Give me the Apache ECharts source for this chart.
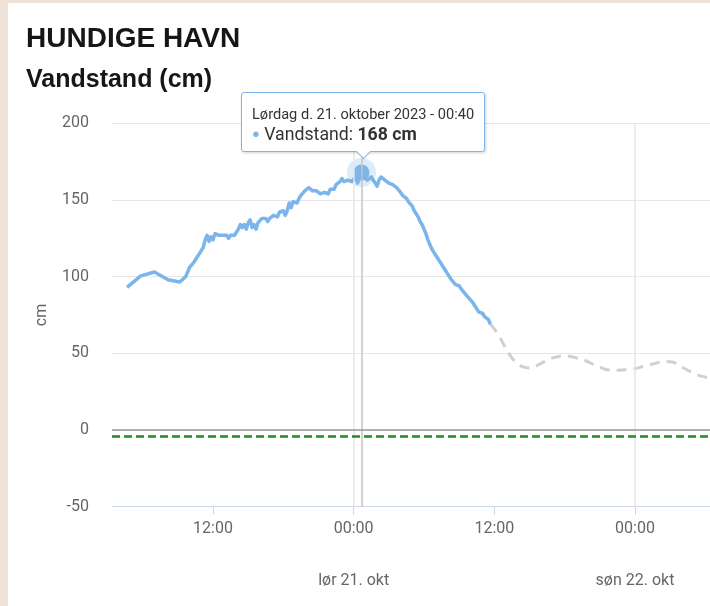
<!DOCTYPE html>
<html>
<head>
<meta charset="utf-8">
<title>Hundige Havn - Vandstand</title>
<script src="https://cdn.jsdelivr.net/npm/echarts@6.0.0/dist/echarts.min.js"></script>
<style>
  html, body { margin: 0; padding: 0; background: #efe3d9; }
  #chart { position: absolute; left: 8px; top: 3px; width: 702px; height: 603px; background: #fff; }
</style>
</head>
<body>
<div id="chart"></div>
<script>
// observed water level (cm), 10 min readings
const obsTime = [
  '2023-10-20 04:40', '2023-10-20 05:50', '2023-10-20 07:00', '2023-10-20 08:10', '2023-10-20 09:10', '2023-10-20 09:40',
  '2023-10-20 10:00', '2023-10-20 10:10', '2023-10-20 10:20', '2023-10-20 10:30', '2023-10-20 10:40', '2023-10-20 10:50',
  '2023-10-20 11:00', '2023-10-20 11:10', '2023-10-20 11:20', '2023-10-20 11:30', '2023-10-20 11:40', '2023-10-20 11:50',
  '2023-10-20 12:00', '2023-10-20 12:10', '2023-10-20 12:20', '2023-10-20 12:30', '2023-10-20 12:40', '2023-10-20 12:50',
  '2023-10-20 13:00', '2023-10-20 13:10', '2023-10-20 13:20', '2023-10-20 13:30', '2023-10-20 13:40', '2023-10-20 13:50',
  '2023-10-20 14:00', '2023-10-20 14:10', '2023-10-20 14:20', '2023-10-20 14:30', '2023-10-20 14:40', '2023-10-20 14:50',
  '2023-10-20 15:00', '2023-10-20 15:10', '2023-10-20 15:20', '2023-10-20 15:30', '2023-10-20 15:40', '2023-10-20 15:50',
  '2023-10-20 16:00', '2023-10-20 16:10', '2023-10-20 16:20', '2023-10-20 16:30', '2023-10-20 16:40', '2023-10-20 16:50',
  '2023-10-20 17:00', '2023-10-20 17:10', '2023-10-20 17:20', '2023-10-20 17:30', '2023-10-20 17:40', '2023-10-20 17:50',
  '2023-10-20 18:00', '2023-10-20 18:10', '2023-10-20 18:20', '2023-10-20 18:30', '2023-10-20 18:40', '2023-10-20 18:50',
  '2023-10-20 19:00', '2023-10-20 19:10', '2023-10-20 19:20', '2023-10-20 19:30', '2023-10-20 19:40', '2023-10-20 19:50',
  '2023-10-20 20:00', '2023-10-20 20:10', '2023-10-20 20:20', '2023-10-20 20:30', '2023-10-20 20:40', '2023-10-20 20:50',
  '2023-10-20 21:00', '2023-10-20 21:10', '2023-10-20 21:20', '2023-10-20 21:30', '2023-10-20 21:40', '2023-10-20 21:50',
  '2023-10-20 22:00', '2023-10-20 22:10', '2023-10-20 22:20', '2023-10-20 22:30', '2023-10-20 22:40', '2023-10-20 22:50',
  '2023-10-20 23:00', '2023-10-20 23:10', '2023-10-20 23:20', '2023-10-20 23:30', '2023-10-20 23:40', '2023-10-20 23:50',
  '2023-10-21 00:00', '2023-10-21 00:10', '2023-10-21 00:20', '2023-10-21 00:30', '2023-10-21 00:40', '2023-10-21 00:50',
  '2023-10-21 01:00', '2023-10-21 01:10', '2023-10-21 01:20', '2023-10-21 01:30', '2023-10-21 01:40', '2023-10-21 01:50',
  '2023-10-21 02:00', '2023-10-21 02:10', '2023-10-21 02:20', '2023-10-21 02:30', '2023-10-21 02:40', '2023-10-21 02:50',
  '2023-10-21 03:00', '2023-10-21 03:10', '2023-10-21 03:20', '2023-10-21 03:30', '2023-10-21 03:40', '2023-10-21 03:50',
  '2023-10-21 04:00', '2023-10-21 04:10', '2023-10-21 04:20', '2023-10-21 04:30', '2023-10-21 04:40', '2023-10-21 04:50',
  '2023-10-21 05:00', '2023-10-21 05:10', '2023-10-21 05:20', '2023-10-21 05:30', '2023-10-21 05:40', '2023-10-21 05:50',
  '2023-10-21 06:00', '2023-10-21 06:10', '2023-10-21 06:20', '2023-10-21 06:30', '2023-10-21 06:40', '2023-10-21 06:50',
  '2023-10-21 07:00', '2023-10-21 07:10', '2023-10-21 07:20', '2023-10-21 07:30', '2023-10-21 07:40', '2023-10-21 07:50',
  '2023-10-21 08:00', '2023-10-21 08:10', '2023-10-21 08:20', '2023-10-21 08:30', '2023-10-21 08:40', '2023-10-21 08:50',
  '2023-10-21 09:00', '2023-10-21 09:10', '2023-10-21 09:20', '2023-10-21 09:30', '2023-10-21 09:40', '2023-10-21 09:50',
  '2023-10-21 10:00', '2023-10-21 10:10', '2023-10-21 10:20', '2023-10-21 10:30', '2023-10-21 10:40', '2023-10-21 10:50',
  '2023-10-21 11:00', '2023-10-21 11:10', '2023-10-21 11:20', '2023-10-21 11:30', '2023-10-21 11:40'
];
const obsLevel = [
  93, 100.5, 103, 98, 96.5, 100,
  106, 105, 109, 111, 113, 115,
  117, 119, 124, 127, 123, 126,
  124, 128, 129, 127, 126, 127,
  126, 127, 125, 127, 126, 127,
  128, 131, 134, 132, 134, 131,
  135, 137, 132, 134, 131, 135,
  136, 138, 137, 138, 136, 138,
  139, 140, 141, 139, 142, 141,
  143, 140, 143, 148, 145, 149,
  150, 148, 151, 153, 154, 156,
  157, 158, 157, 156, 155, 156,
  155, 154, 153, 155, 156, 154,
  157, 158, 157, 160, 161, 162,
  164, 162, 161, 163, 164, 162,
  163, 165, 161, 164, 168, 165,
  164, 163, 164, 165, 163, 164,
  159, 163, 165, 164, 163, 162,
  161, 162, 160, 159, 158, 157,
  155, 153, 152, 151, 149, 148,
  146, 143, 141, 139, 136, 134,
  131, 128, 124, 121, 118, 116,
  114, 112, 110, 108, 106, 104,
  102, 100, 98, 97, 95, 95,
  94, 92, 91, 89, 88, 86,
  85, 83, 81, 79, 77, 76,
  76, 74, 74, 72, 69
];

// forecast (cm)
const fcTime = [
  '2023-10-21 11:40', '2023-10-21 12:00', '2023-10-21 12:30', '2023-10-21 13:00', '2023-10-21 13:30', '2023-10-21 14:00',
  '2023-10-21 14:30', '2023-10-21 15:00', '2023-10-21 15:30', '2023-10-21 16:00', '2023-10-21 16:30', '2023-10-21 17:00',
  '2023-10-21 17:30', '2023-10-21 18:00', '2023-10-21 18:30', '2023-10-21 19:00', '2023-10-21 19:30', '2023-10-21 20:00',
  '2023-10-21 20:30', '2023-10-21 21:00', '2023-10-21 21:30', '2023-10-21 22:00', '2023-10-21 22:30', '2023-10-21 23:00',
  '2023-10-21 23:30', '2023-10-22 00:00', '2023-10-22 00:30', '2023-10-22 01:00', '2023-10-22 01:30', '2023-10-22 02:00',
  '2023-10-22 02:30', '2023-10-22 03:00', '2023-10-22 03:30', '2023-10-22 04:00', '2023-10-22 04:30', '2023-10-22 05:00',
  '2023-10-22 05:30', '2023-10-22 06:00', '2023-10-22 06:30', '2023-10-22 07:00'
];
const fcLevel = [
  69, 66, 60, 53, 47, 43,
  41, 40.5, 41.5, 43.5, 45.5, 47,
  48, 48.3, 48, 47, 46, 44.5,
  42.5, 41, 39.5, 39, 39, 39.2,
  39.4, 40, 41, 42, 43, 44,
  44.6, 44.5, 43.5, 41, 39, 37,
  35.5, 34.5, 33.5, 33
];

const xRange = ['2023-10-20 03:23', '2023-10-22 06:24'];
const dayStarts = ['2023-10-21 00:00', '2023-10-22 00:00'];
const yRange = [-50, 200];
const yStep = 50;
const zeroLevel = 0;
const refLevel = -4;

const dayShort = ['søn', 'man', 'tir', 'ons', 'tor', 'fre', 'lør'];
const dayFull = ['Søndag', 'Mandag', 'Tirsdag', 'Onsdag', 'Torsdag', 'Fredag', 'Lørdag'];
const monthShort = ['jan', 'feb', 'mar', 'apr', 'maj', 'jun', 'jul', 'aug', 'sep', 'okt', 'nov', 'dec'];
const monthFull = ['januar', 'februar', 'marts', 'april', 'maj', 'juni', 'juli', 'august', 'september', 'oktober', 'november', 'december'];

const pad = n => (n < 10 ? '0' : '') + n;
const HOUR = 3600 * 1000;

let peakIdx = 0;
obsLevel.forEach((v, i) => { if (v > obsLevel[peakIdx]) peakIdx = i; });
const peakTime = obsTime[peakIdx];

const chart = echarts.init(document.getElementById('chart'));

const font = 'Roboto, "Liberation Sans", sans-serif';

const option = {
  animation: false,
  textStyle: { fontFamily: font },
  title: [
    {
      text: 'HUNDIGE HAVN', left: 13, top: 17,
      textStyle: { fontFamily: '"Liberation Sans", Arial, sans-serif', fontWeight: 'bold', fontSize: 28, color: '#161616' }
    },
    {
      text: 'Vandstand (cm)', left: 13, top: 60,
      textStyle: { fontFamily: '"Liberation Sans", Arial, sans-serif', fontWeight: 'bold', fontSize: 25, color: '#161616' }
    }
  ],
  grid: { left: 104, right: 0, top: 120.3, bottom: 99.3, containLabel: false, outerBoundsMode: 'none' },
  tooltip: {
    trigger: 'item',
    triggerOn: 'none',
    alwaysShowContent: true,
    transitionDuration: 0,
    backgroundColor: '#fff',
    borderColor: '#7cb5ec',
    borderWidth: 1,
    padding: [12, 10, 6, 10],
    extraCssText: 'box-shadow: 1px 1px 3px rgba(0,0,0,0.18); border-radius: 3px; overflow: visible;',
    position: function (pt, params, dom, rect, size) {
      return [pt[0] - size.contentSize[0] / 2 + 2, pt[1] - size.contentSize[1] - 20];
    },
    formatter: function (p) {
      const d = new Date(p.value[0].replace(' ', 'T'));
      const head = dayFull[d.getDay()] + ' d. ' + d.getDate() + '. ' + monthFull[d.getMonth()] + ' ' +
        d.getFullYear() + ' - ' + pad(d.getHours()) + ':' + pad(d.getMinutes());
      return '<div style="font:14.6px/18px Roboto,sans-serif;color:#333;white-space:nowrap">' + head + '</div>' +
        '<div style="font:17.7px/22px Roboto,sans-serif;color:#333;white-space:nowrap">' +
        '<span style="color:#7cb5ec;font-size:13px;vertical-align:2px">\u25CF</span> Vandstand: <b>' + p.value[1] + ' cm</b></div>' +
        '<div style="position:absolute;left:50%;bottom:-6px;width:10px;height:10px;margin-left:-5px;background:#fff;' +
        'border-right:1px solid #7cb5ec;border-bottom:1px solid #7cb5ec;transform:rotate(45deg)"></div>';
    }
  },
  xAxis: [
    {
      type: 'time',
      min: xRange[0],
      max: xRange[1],
      // slightly above 12 h so the time scale settles on 12-hour ticks
      minInterval: 13 * HOUR,
      maxInterval: 13 * HOUR,
      axisLine: { show: true, onZero: false, lineStyle: { color: '#ccd6eb', width: 1 } },
      axisTick: { show: true, length: 8, lineStyle: { color: '#ccd6eb' } },
      splitLine: { show: false },
      axisLabel: {
        color: '#666', fontSize: 16, margin: 14, fontFamily: font,
        formatter: function (v) {
          const d = new Date(v);
          if (d.getMinutes() !== 0 || d.getHours() % 12 !== 0) return '';
          return pad(d.getHours()) + ':00';
        }
      }
    },
    {
      type: 'time',
      position: 'bottom',
      min: xRange[0],
      max: xRange[1],
      minInterval: 24 * HOUR,
      maxInterval: 24 * HOUR,
      axisLine: { show: false, onZero: false },
      axisTick: { show: false },
      splitLine: { show: false },
      axisLabel: {
        color: '#666', fontSize: 16, margin: 66, fontFamily: font,
        formatter: function (v) {
          const d = new Date(v);
          if (d.getMinutes() !== 0 || d.getHours() !== 0) return '';
          return dayShort[d.getDay()] + ' ' + d.getDate() + '. ' + monthShort[d.getMonth()];
        }
      }
    }
  ],
  yAxis: {
    type: 'value',
    min: yRange[0],
    max: yRange[1],
    interval: yStep,
    name: 'cm',
    nameLocation: 'middle',
    nameGap: 62,
    nameTextStyle: { color: '#666', fontSize: 16, fontFamily: font },
    axisLine: { show: false },
    axisTick: { show: false },
    axisLabel: { color: '#666', fontSize: 16, margin: 23, fontFamily: font, padding: [3, 0, 0, 0] },
    splitLine: { lineStyle: { color: '#e6e6e6', width: 1 } }
  },
  series: [
    {
      name: 'Prognose',
      type: 'line',
      z: 2,
      data: fcTime.map((t, i) => [t, fcLevel[i]]),
      showSymbol: false,
      symbol: 'none',
      smooth: 0.3,
      silent: true,
      lineStyle: { color: '#d0d0d0', width: 3, type: [10, 7] },
      markLine: {
        silent: true,
        symbol: 'none',
        label: { show: false },
        data: [
          ...dayStarts.map(t => ({ xAxis: t, lineStyle: { color: '#e6e6e6', width: 1.5, type: 'solid' } })),
          { xAxis: peakTime, lineStyle: { color: '#c4c4c4', width: 1.5, type: 'solid' } },
          { yAxis: zeroLevel, lineStyle: { color: '#9a9a9a', width: 1.5, type: 'solid' } },
          { yAxis: refLevel, lineStyle: { color: '#228b22', width: 2.5, type: [8, 4] } }
        ]
      }
    },
    {
      name: 'Vandstand',
      type: 'line',
      z: 3,
      data: obsTime.map((t, i) => [t, obsLevel[i]]),
      showSymbol: false,
      symbol: 'none',
      silent: true,
      lineStyle: { color: '#7cb5ec', width: 3.5, join: 'round' }
    },
    {
      name: 'Vandstand',
      type: 'scatter',
      z: 4,
      data: [[peakTime, obsLevel[peakIdx]]],
      symbolSize: 16,
      itemStyle: { color: '#7cb5ec', opacity: 1, borderColor: 'rgba(124,181,236,0.25)', borderWidth: 13 },
      emphasis: { disabled: true }
    }
  ]
};

chart.setOption(option);
chart.dispatchAction({ type: 'showTip', seriesIndex: 2, dataIndex: 0 });
</script>
</body>
</html>
